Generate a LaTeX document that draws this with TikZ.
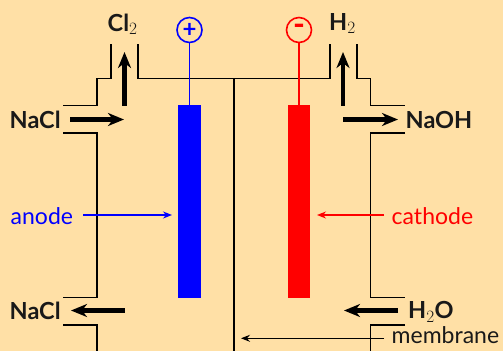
\documentclass[tikz,border=0pt]{standalone}
\usepackage{fontspec}
\setmainfont{Lato}
\usetikzlibrary{arrows.meta}
\definecolor{bg}{RGB}{255,224,166}
\tikzset{
  wall/.style={draw=black,line width=1.5pt},
  flow/.style={draw=black,line width=4.2pt,-{Stealth[length=16pt,width=13pt,inset=5pt]},shorten >=-1pt},
  thin/.style={line width=1.4pt,-{Stealth[length=9pt,width=7pt,inset=3pt]}},
  chem/.style={font=\fontsize{23.5}{25}\selectfont\bfseries,inner sep=0pt,text=black!90},
  lab/.style={font=\fontsize{23}{25}\selectfont,inner sep=0pt},
  elec/.style={inner sep=0pt,minimum width=22.5pt,minimum height=193pt,rectangle},
  term/.style={circle,draw,line width=1.6pt,fill=none,minimum size=25pt,inner sep=0pt,font=\fontsize{24}{24}\selectfont\bfseries},
}
\begin{document}
\begin{tikzpicture}[x=1pt,y=-1pt]
\fill[bg] (0,0) rectangle (503,351);
\useasboundingbox (0,0) rectangle (503,351);
% walls
\draw[wall] (63,105.5) -- (97,105.5) -- (97,78.5) -- (111,78.5) -- (111,44);
\draw[wall] (138,44) -- (138,78.5) -- (330,78.5) -- (330,44);
\draw[wall] (357,44) -- (357,78.5) -- (370.5,78.5) -- (370.5,105.5) -- (405,105.5);
\draw[wall] (63,133) -- (97,133) -- (97,297.5) -- (63,297.5);
\draw[wall] (405,133) -- (370.5,133) -- (370.5,297.5) -- (405,297.5);
\draw[wall] (63,325) -- (97,325) -- (97,351);
\draw[wall] (405,325) -- (370.5,325) -- (370.5,351);
\coordinate (mt) at (234,78.5);
\coordinate (mb) at (234,351);
\draw[wall] (mt) -- (mb);
% electrodes
\node[elec,fill=blue] (an) at (189.5,201.5) {};
\node[elec,fill=red] (ca) at (299,201.5) {};
\node[term,draw=blue,text=blue] (plus) at (189.5,30) {+};
\node[term,draw=red,text=red] (minus) at (299,30) {\raisebox{-2pt}{\fontsize{32}{32}\selectfont\bfseries -}};
\draw[blue,line width=1.6pt] (plus) -- (an.north);
\draw[red,line width=1.6pt] (minus) -- (ca.north);
% chemical labels
\node[chem,anchor=base west] (cl) at (107.5,31) {Cl$_2$};
\node[chem,anchor=base west] (h2) at (329,30) {H$_2$};
\node[chem,anchor=base west] (n1) at (9.5,128) {NaCl};
\node[chem,anchor=base west] (n2) at (9.5,319) {NaCl};
\node[chem,anchor=base west] (na) at (405.5,128) {NaOH};
\node[chem,anchor=base west] (w) at (408,318.5) {H$_2$O};
% flow arrows
\coordinate (a1) at (124.5,105.5); \coordinate (a2) at (124.5,53);
\coordinate (b1) at (343,105.5);   \coordinate (b2) at (343,53);
\coordinate (c1) at (70,119.5);    \coordinate (c2) at (123,119.5);
\coordinate (d1) at (343,119.5);   \coordinate (d2) at (397,119.5);
\coordinate (e1) at (124.5,310.5); \coordinate (e2) at (72,310.5);
\coordinate (f1) at (398,310.5);   \coordinate (f2) at (345,310.5);
\draw[flow] (a1) -- (a2);
\draw[flow] (b1) -- (b2);
\draw[flow] (c1) -- (c2);
\draw[flow] (d1) -- (d2);
\draw[flow] (e1) -- (e2);
\draw[flow] (f1) -- (f2);
% pointer labels
\node[lab,text=blue,anchor=base west] (anl) at (10.5,224) {anode};
\node[lab,text=red,anchor=base west] (cal) at (391.5,224) {cathode};
\node[lab,text=black!90,anchor=base west] (mem) at (391.5,343.5) {membrane};
\coordinate (p1) at (83,215); \coordinate (p2) at (172,215);
\coordinate (q1) at (384,215); \coordinate (q2) at (317,215);
\coordinate (r1) at (384,338.3); \coordinate (r2) at (241,338.3);
\draw[thin,blue] (p1) -- (p2);
\draw[thin,red] (q1) -- (q2);
\draw[thin,black] (r1) -- (r2);
\end{tikzpicture}
\end{document}
